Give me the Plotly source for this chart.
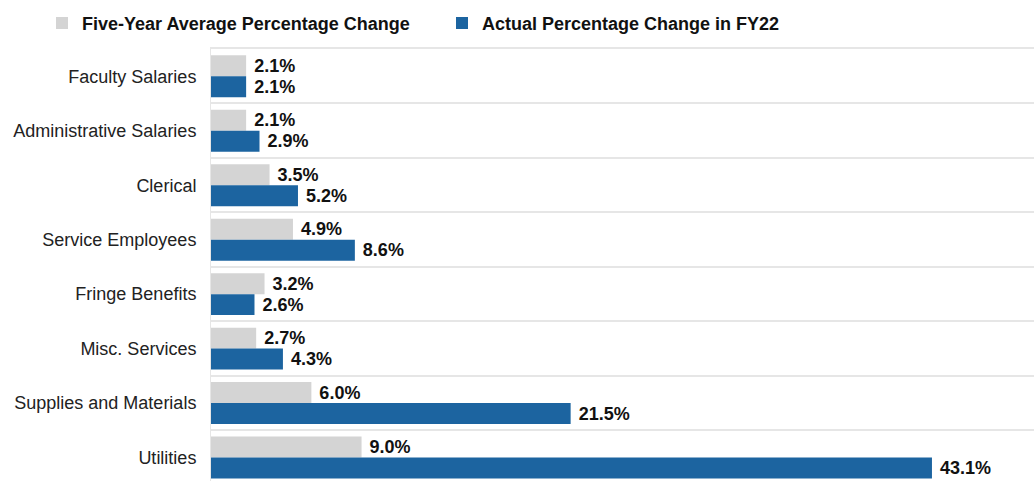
import plotly.graph_objects as go

# Budget categories, top to bottom
categories = [
    "Faculty Salaries", "Administrative Salaries", "Clerical", "Service Employees",
    "Fringe Benefits", "Misc. Services", "Supplies and Materials", "Utilities",
]
five_year_avg = [2.1, 2.1, 3.5, 4.9, 3.2, 2.7, 6.0, 9.0]
actual_fy22 = [2.1, 2.9, 5.2, 8.6, 2.6, 4.3, 21.5, 43.1]

series_names = ["Five-Year Average Percentage Change", "Actual Percentage Change in FY22"]
font = "Liberation Sans, Arial, sans-serif"

fig = go.Figure()
fig.add_trace(go.Bar(
    name=series_names[0], y=categories, x=five_year_avg, orientation="h",
    marker=dict(color="#D4D4D4", line=dict(width=0)),
    texttemplate=" %{x:.1f}%", textposition="outside", cliponaxis=False,
    textfont=dict(family=font, size=18, color="#111111", weight="bold"),
))
fig.add_trace(go.Bar(
    name=series_names[1], y=categories, x=actual_fy22, orientation="h",
    marker=dict(color="#1C64A0", line=dict(width=0)),
    texttemplate=" %{x:.1f}%", textposition="outside", cliponaxis=False,
    textfont=dict(family=font, size=18, color="#111111", weight="bold"),
))

fig.update_layout(
    width=1034, height=481,
    barmode="group", bargap=0.23, bargroupgap=0,
    plot_bgcolor="white", paper_bgcolor="white",
    margin=dict(l=211, r=0, t=49, b=0, autoexpand=False),
    font=dict(family=font, size=18, color="#222222"),
    showlegend=True,
    legend=dict(
        orientation="h", xref="container", x=42 / 1034, xanchor="left",
        yref="container", y=0.99, yanchor="top",
        font=dict(family=font, size=18, color="#111111", weight="bold"),
        entrywidth=355, entrywidthmode="pixels", itemclick=False,
    ),
)

# x axis sits on top only to draw the thin frame line above the first group
fig.update_xaxes(
    range=[0, 49.2], side="top", showgrid=False, zeroline=False, showticklabels=False,
    showline=True, linecolor="#E6E6E6", linewidth=1.5, fixedrange=True,
)
fig.update_yaxes(
    autorange=False, range=[7.43, -0.5], tickson="boundaries",
    showgrid=True, gridcolor="#E6E6E6", gridwidth=1.5,
    showline=True, linecolor="#E6E6E6", linewidth=1,
    ticks="", ticklabelstandoff=10,
    tickfont=dict(family=font, size=18, color="#222222"),
)

# drop the default page margin so the figure sits at the window's corner
fig.write_html(
    "out.html",
    config={"displayModeBar": False},
    post_script="document.body.style.margin='0';",
)
